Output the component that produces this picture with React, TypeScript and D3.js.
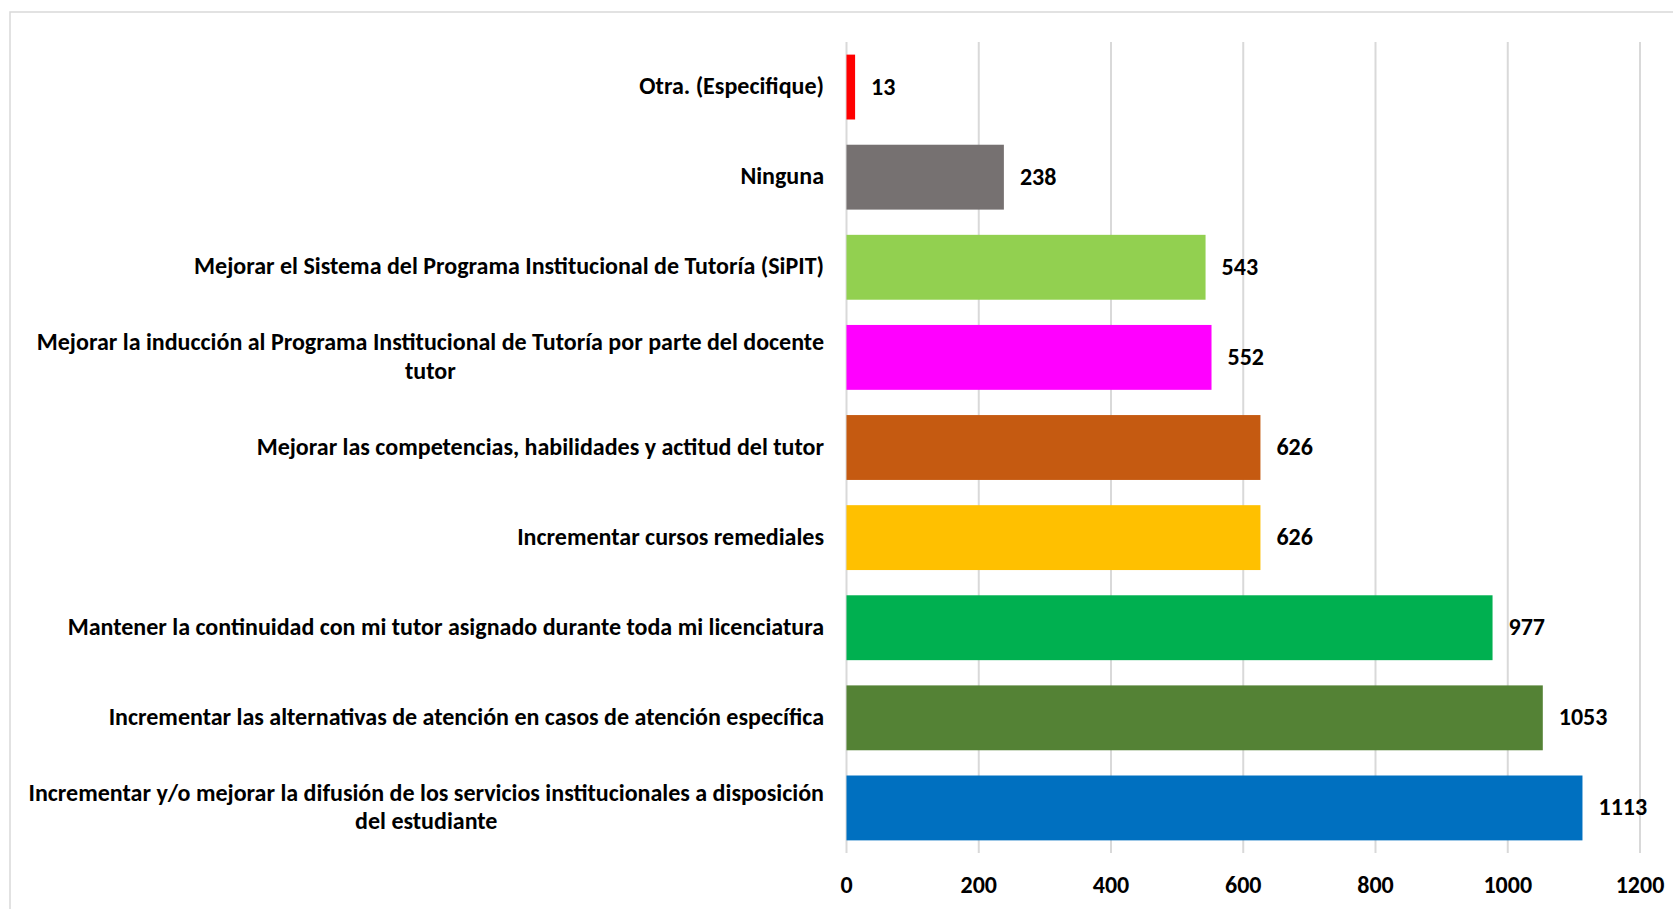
import React from "react";
import * as d3 from "d3";

const categories: string[] = [
  "Otra. (Especifique)",
  "Ninguna",
  "Mejorar el Sistema del Programa Institucional de Tutoría (SiPIT)",
  "Mejorar la inducción al Programa Institucional de Tutoría por parte del docente\ntutor",
  "Mejorar las competencias, habilidades y actitud del tutor",
  "Incrementar cursos remediales",
  "Mantener la continuidad con mi tutor asignado durante toda mi licenciatura",
  "Incrementar las alternativas de atención en casos de atención específica",
  "Incrementar y/o mejorar la difusión de los servicios institucionales a disposición\ndel estudiante",
];
const values: number[] = [13, 238, 543, 552, 626, 626, 977, 1053, 1113];
const colors: string[] = [
  "#FF0000",
  "#767171",
  "#92D050",
  "#FF00FF",
  "#C55A11",
  "#FFC000",
  "#00B050",
  "#548235",
  "#0070C0",
];
const xTicks: number[] = [0, 200, 400, 600, 800, 1000, 1200];

const W = 1673;
const H = 909;
const FONT = "Carlito, Calibri, Lato, 'Open Sans', sans-serif";

let ctx: CanvasRenderingContext2D | null = null;
function measure(text: string, size: number): number {
  if (!ctx) ctx = document.createElement("canvas").getContext("2d");
  if (!ctx) return text.length * size * 0.5;
  ctx.font = `bold ${size}px ${FONT}`;
  return ctx.measureText(text).width;
}

export default function App() {
  const x = d3.scaleLinear().domain([0, 1200]).range([846.5, 1640]);
  const y = d3
    .scaleBand<string>()
    .domain(categories)
    .range([42, 853])
    .paddingInner(0.28)
    .paddingOuter(0.14);

  const labelRight = 824;
  const longest = "Incrementar y/o mejorar la difusión de los servicios institucionales a disposición";
  const baseSize = 22;
  const catSize = (baseSize * 796) / measure(longest, baseSize);
  const lineH = 28.8;
  const numSize = 24;

  return (
    <svg
      width={W}
      height={H}
      style={{ position: "absolute", left: 0, top: 0, background: "#fff" }}
      fontFamily={FONT}
    >
      <rect x={0} y={0} width={W} height={H} fill="#fff" />
      <rect x={10} y={12} width={W + 10} height={H + 10} fill="none" stroke="#d9d9d9" strokeWidth={1.5} />
      {xTicks.map((t) => (
        <line key={t} x1={x(t)} x2={x(t)} y1={42} y2={853} stroke="#d9d9d9" strokeWidth={2} />
      ))}
      {categories.map((c, i) => (
        <rect
          key={c}
          x={x(0)}
          y={y(c)}
          width={x(values[i]) - x(0)}
          height={y.bandwidth()}
          fill={colors[i]}
        />
      ))}
      {categories.map((c, i) => (
        <text
          key={"v" + c}
          x={x(values[i]) + 16}
          y={(y(c) as number) + y.bandwidth() / 2 - 1}
          dominantBaseline="central"
          fontSize={numSize}
          fontWeight="bold"
          fill="#000"
        >
          {values[i]}
        </text>
      ))}
      {categories.map((c) => {
        const lines = c.split("\n");
        const widths = lines.map((l) => measure(l, catSize));
        const bw = Math.max(...widths);
        const cx = lines.length > 1 ? labelRight - bw / 2 : labelRight;
        const cy = (y(c) as number) + y.bandwidth() / 2;
        const y0 = cy - ((lines.length - 1) * lineH) / 2 - 2;
        return (
          <text
            key={"c" + c}
            fontSize={catSize}
            fontWeight="bold"
            fill="#000"
            textAnchor={lines.length > 1 ? "middle" : "end"}
            dominantBaseline="central"
          >
            {lines.map((l, k) => (
              <tspan key={k} x={cx} y={y0 + k * lineH}>
                {l}
              </tspan>
            ))}
          </text>
        );
      })}
      {xTicks.map((t) => (
        <text
          key={"t" + t}
          x={x(t)}
          y={884}
          textAnchor="middle"
          dominantBaseline="central"
          fontSize={numSize}
          fontWeight="bold"
          fill="#000"
        >
          {t}
        </text>
      ))}
    </svg>
  );
}
